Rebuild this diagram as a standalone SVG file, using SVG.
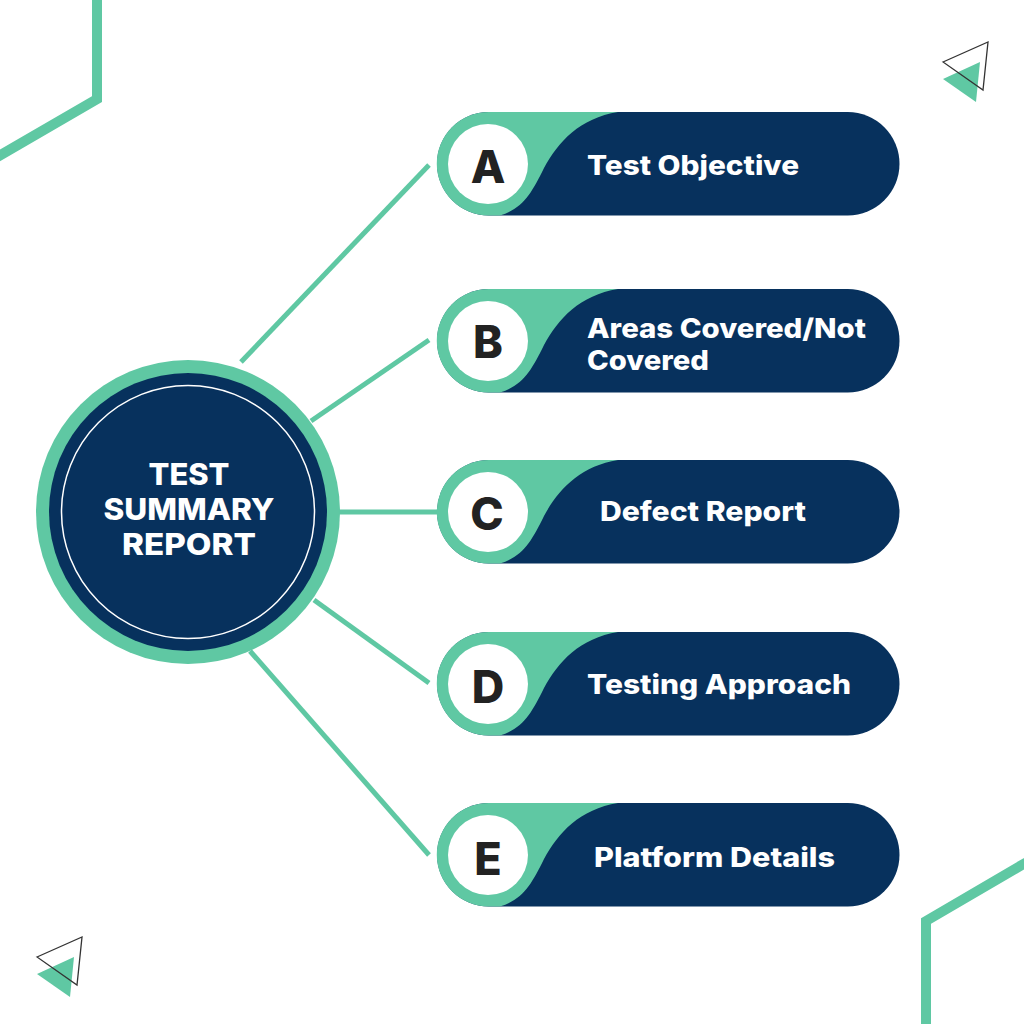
<svg xmlns="http://www.w3.org/2000/svg" width="1024" height="1024" viewBox="0 0 1024 1024">
<defs>
<style>
.t{font-family:Inter,"Liberation Sans",sans-serif;font-weight:800;font-size:27px;fill:#fff}
.l{font-family:Inter,"Liberation Sans",sans-serif;font-weight:800;font-size:45px;fill:#222;text-anchor:middle}
.c{font-family:Inter,"Liberation Sans",sans-serif;font-weight:800;font-size:30px;fill:#fff}
.conn{stroke:#5fc8a3;stroke-width:5;fill:none}
.deco{stroke:#5fc8a3;stroke-width:10;fill:none}
</style>
<g id="pill">
<rect x="437" y="0" width="462.500" height="103.500" rx="51.700" fill="#07315d"/>
<path d="M488.500 0H618C580 6 558 30 544 56C532 80 524 96 500 103.500H488.500A51.700 51.700 0 0 1 488.500 0Z" fill="#5fc8a3"/>
<circle cx="488" cy="52" r="40" fill="#fff"/>
</g>
<g id="tri">
<path d="M0 37L37 20L33 60Z" fill="#5fc8a3"/>
<path d="M0 20L45 0L40 48Z" fill="none" stroke="#333" stroke-width="1.300"/>
</g>
</defs>
<rect width="1024" height="1024" fill="#fff"/>
<g id="decor">
<path class="deco" d="M97 -5V99L-20 167"/>
<path class="deco" d="M926 1030V921L1044 852"/>
<use href="#tri" x="943" y="42"/>
<use href="#tri" x="37" y="937"/>
</g>
<g id="connectors">
<line class="conn" x1="241" y1="362" x2="429" y2="165"/>
<line class="conn" x1="311" y1="421" x2="429" y2="340"/>
<line class="conn" x1="338" y1="512" x2="440" y2="512"/>
<line class="conn" x1="314" y1="600" x2="429" y2="683"/>
<line class="conn" x1="250" y1="651" x2="429" y2="855"/>
</g>
<g id="center">
<circle cx="188" cy="512" r="152" fill="#5fc8a3"/>
<circle cx="188" cy="512" r="139" fill="#07315d"/>
<circle cx="188" cy="512" r="126.500" fill="none" stroke="#fff" stroke-width="1.500"/>
<text class="c" x="189" y="485" text-anchor="middle" textLength="81" lengthAdjust="spacingAndGlyphs">TEST</text>
<text class="c" x="189" y="520" text-anchor="middle" textLength="171" lengthAdjust="spacingAndGlyphs">SUMMARY</text>
<text class="c" x="189" y="555" text-anchor="middle" textLength="134" lengthAdjust="spacingAndGlyphs">REPORT</text>
</g>
<g id="node-a"><use href="#pill" y="112"/><text class="l" x="488" y="183">A</text><text class="t" x="587" y="175" textLength="212" lengthAdjust="spacingAndGlyphs">Test Objective</text></g>
<g id="node-b"><use href="#pill" y="289"/><text class="l" x="488" y="358">B</text><text class="t" x="587" y="338" textLength="279" lengthAdjust="spacingAndGlyphs">Areas Covered/Not</text><text class="t" x="587" y="370" textLength="122" lengthAdjust="spacingAndGlyphs">Covered</text></g>
<g id="node-c"><use href="#pill" y="460"/><text class="l" x="487" y="530">C</text><text class="t" x="600" y="521" textLength="206" lengthAdjust="spacingAndGlyphs">Defect Report</text></g>
<g id="node-d"><use href="#pill" y="632"/><text class="l" x="488" y="703">D</text><text class="t" x="587" y="694" textLength="264" lengthAdjust="spacingAndGlyphs">Testing Approach</text></g>
<g id="node-e"><use href="#pill" y="803"/><text class="l" x="488" y="875">E</text><text class="t" x="594" y="867" textLength="241" lengthAdjust="spacingAndGlyphs">Platform Details</text></g>
</svg>
